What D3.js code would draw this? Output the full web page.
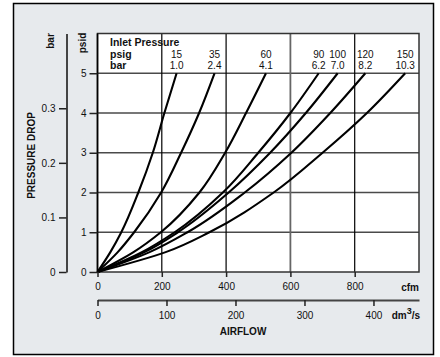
<!DOCTYPE html>
<html>
<head>
<meta charset="utf-8">
<script src="https://cdn.jsdelivr.net/npm/d3@7"></script>
<style>
  body { margin: 0; background: #fff; }
  text { font-family: "Liberation Sans", Arial, Helvetica, sans-serif; fill: #111; }
  .bold { font-weight: bold; }
</style>
</head>
<body>
<svg id="chart" width="440" height="357"></svg>
<script>
var psidLevels = [0, 0.5, 1, 2, 3, 4, 5];

// inlet pressure labels
var inletPsig = ["15", "35", "60", "90", "100", "120", "150"];
var inletBar = ["1.0", "2.4", "4.1", "6.2", "7.0", "8.2", "10.3"];

// airflow (cfm) for each inlet pressure at the psid levels above
var flow15  = [0, 40, 74, 127, 172, 208, 246];
var flow35  = [0, 63, 114, 198, 260, 316, 364];
var flow60  = [0, 112, 197, 317, 397, 462, 524];
var flow90  = [0, 138, 240, 390, 500, 600, 688];
var flow100 = [0, 146, 250, 408, 537, 648, 747];
var flow120 = [0, 162, 280, 458, 603, 724, 833];
var flow150 = [0, 212, 348, 548, 700, 838, 957];

// axis ticks
var cfmTicks = [0, 200, 400, 600, 800];
var dmTicks = [0, 100, 200, 300, 400];
var psidTicks = [0, 1, 2, 3, 4, 5];
var barTicks = [0, 0.1, 0.2, 0.3];

var svg = d3.select("#chart");
var plot = {left: 97.5, right: 419, top: 33.5, bottom: 272};

var x = d3.scaleLinear().domain([0, 1000]).range([plot.left, plot.right]);
var y = d3.scaleLinear().domain([0, 6]).range([plot.bottom, plot.top]);
var yBar = d3.scaleLinear().domain([0, 0.437]).range([plot.bottom, plot.top]);
var xDm = d3.scaleLinear().domain([0, 466]).range([plot.left, plot.right]);

// outer frame
svg.append("rect")
    .attr("x", 13.5).attr("y", 3.5)
    .attr("width", 420).attr("height", 351)
    .attr("fill", "#e7eaed")
    .attr("stroke", "#000")
    .attr("stroke-width", 1.5);

// plot background
svg.append("rect")
    .attr("x", plot.left).attr("y", plot.top)
    .attr("width", plot.right - plot.left)
    .attr("height", plot.bottom - plot.top)
    .attr("fill", "#fff");

// grid
svg.append("g").selectAll("line")
    .data(psidTicks.slice(1))
  .enter().append("line")
    .attr("x1", plot.left).attr("x2", plot.right)
    .attr("y1", function(d) { return y(d); })
    .attr("y2", function(d) { return y(d); })
    .attr("stroke", "#4a4a4a")
    .attr("stroke-width", 1.5);

svg.append("g").selectAll("line")
    .data(cfmTicks.slice(1))
  .enter().append("line")
    .attr("x1", function(d) { return x(d); })
    .attr("x2", function(d) { return x(d); })
    .attr("y1", plot.top).attr("y2", plot.bottom)
    .attr("stroke", function(d) { return d == 600 ? "#666" : "#000"; })
    .attr("stroke-width", function(d) { return d == 600 ? 1.8 : 1.2; });

// plot border
svg.append("rect")
    .attr("x", plot.left).attr("y", plot.top)
    .attr("width", plot.right - plot.left)
    .attr("height", plot.bottom - plot.top)
    .attr("fill", "none")
    .attr("stroke", "#333")
    .attr("stroke-width", 1.5);
svg.append("line")
    .attr("x1", plot.left).attr("x2", plot.left)
    .attr("y1", plot.top).attr("y2", plot.bottom + 0.7)
    .attr("stroke", "#000").attr("stroke-width", 1.6);

// curves
var series = [flow15, flow35, flow60, flow90, flow100, flow120, flow150];
var line = d3.line()
    .x(function(d) { return x(d.q); })
    .y(function(d) { return y(d.p); })
    .curve(d3.curveMonotoneY);

svg.append("g").selectAll("path")
    .data(series)
  .enter().append("path")
    .attr("d", function(s) {
      return line(s.map(function(q, i) { return {q: q, p: psidLevels[i]}; }));
    })
    .attr("fill", "none")
    .attr("stroke", "#000")
    .attr("stroke-width", 2.1);

// header labels
svg.append("text").attr("class", "bold")
    .attr("x", 110).attr("y", 46)
    .style("font-size", "10.5px")
    .text("Inlet Pressure");
svg.append("text").attr("class", "bold")
    .attr("x", 110).attr("y", 57.5)
    .style("font-size", "10.5px")
    .text("psig");
svg.append("text").attr("class", "bold")
    .attr("x", 110).attr("y", 68.5)
    .style("font-size", "10.5px")
    .text("bar");

var last = psidLevels.length - 1;
svg.append("g").selectAll("text")
    .data(series)
  .enter().append("text")
    .attr("x", function(s) { return x(s[last]); })
    .attr("y", 57.5)
    .attr("text-anchor", "middle")
    .style("font-size", "10px")
    .text(function(s, i) { return inletPsig[i]; });
svg.append("g").selectAll("text")
    .data(series)
  .enter().append("text")
    .attr("x", function(s) { return x(s[last]); })
    .attr("y", 68.5)
    .attr("text-anchor", "middle")
    .style("font-size", "10px")
    .text(function(s, i) { return inletBar[i]; });

function styleAxis(g, domainColor) {
  g.selectAll("text")
      .style("font-family", "'Liberation Sans', Arial, sans-serif")
      .style("font-size", "10px")
      .attr("fill", "#111");
  g.selectAll("line").attr("stroke", "#222").attr("stroke-width", 1.5);
  g.select(".domain").attr("stroke", domainColor).attr("stroke-width", 2);
}

// psid axis
var gPsid = svg.append("g")
    .attr("transform", "translate(" + plot.left + ",0)")
    .call(d3.axisLeft(y).tickValues(psidTicks).tickSize(8).tickPadding(3).tickSizeOuter(0)
      .tickFormat(d3.format("d")));
styleAxis(gPsid, "none");

// bar axis
var gBar = svg.append("g")
    .attr("transform", "translate(66.5,0)")
    .call(d3.axisLeft(yBar).tickValues(barTicks).tickSize(7.5).tickPadding(3.5).tickSizeOuter(0)
      .tickFormat(function(d) { return d == 0 ? "0" : d.toFixed(1); }));
styleAxis(gBar, "#444");

// cfm axis
var gCfm = svg.append("g")
    .attr("transform", "translate(0," + plot.bottom + ")")
    .call(d3.axisBottom(x).tickValues(cfmTicks).tickSize(5).tickPadding(6).tickSizeOuter(0));
styleAxis(gCfm, "none");

// dm3/s axis
var gDm = svg.append("g")
    .attr("transform", "translate(0,300)")
    .call(d3.axisBottom(xDm).tickValues(dmTicks).tickSize(6).tickPadding(6).tickSizeOuter(0));
styleAxis(gDm, "#444");

// axis titles
svg.append("text").attr("class", "bold")
    .attr("x", 419).attr("y", 290.5)
    .attr("text-anchor", "end")
    .style("font-size", "10px")
    .text("cfm");

var dmLabel = svg.append("text").attr("class", "bold")
    .attr("x", 420).attr("y", 319)
    .attr("text-anchor", "end")
    .style("font-size", "10px");
dmLabel.append("tspan").text("dm");
dmLabel.append("tspan").attr("dy", -5).style("font-size", "9px").text("3");
dmLabel.append("tspan").attr("dy", 5).text("/s");

svg.append("text").attr("class", "bold")
    .attr("x", 243).attr("y", 335)
    .attr("text-anchor", "middle")
    .style("font-size", "10px")
    .text("AIRFLOW");

svg.append("text").attr("class", "bold")
    .attr("transform", "translate(86,43) rotate(-90)")
    .attr("text-anchor", "middle")
    .style("font-size", "10px")
    .text("psid");
svg.append("text").attr("class", "bold")
    .attr("transform", "translate(53.5,41) rotate(-90)")
    .attr("text-anchor", "middle")
    .style("font-size", "10px")
    .text("bar");
svg.append("text").attr("class", "bold")
    .attr("transform", "translate(34.5,155.5) rotate(-90)")
    .attr("text-anchor", "middle")
    .style("font-size", "10px")
    .text("PRESSURE DROP");
</script>
</body>
</html>
